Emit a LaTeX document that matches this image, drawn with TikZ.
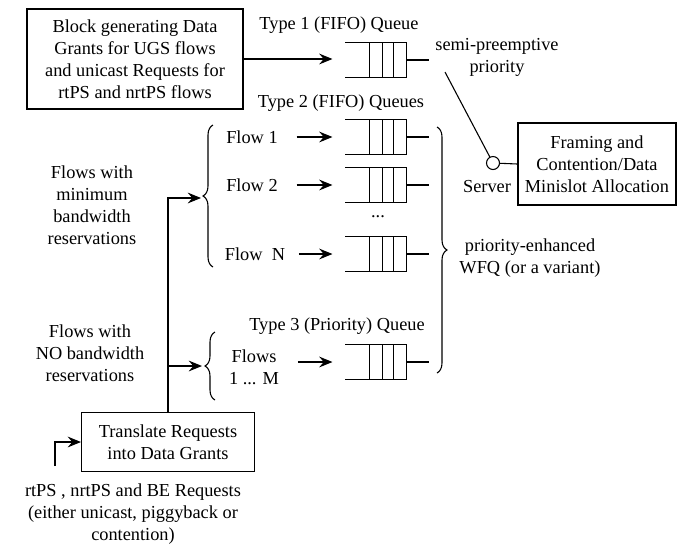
\documentclass[tikz,border=0pt]{standalone}
\usepackage{fontspec}
\setmainfont{Liberation Serif}
\usetikzlibrary{calc,arrows.meta,decorations.pathreplacing,positioning}

\begin{document}
\begin{tikzpicture}[x=0.6pt,y=-0.6pt,line width=0.65pt,
	font=\fontsize{11pt}{13.2pt}\selectfont,
	every node/.style={align=center,inner sep=0pt},
	block/.style={draw,rectangle,inner sep=0pt},
	queue/.style={rectangle,minimum width=36pt,minimum height=20.4pt,inner sep=0pt},
	feed/.style={-{Stealth[length=8pt,width=6.5pt,inset=2.8pt]}},
	arr/.style={feed,shorten >=7.8pt},
	flowarr/.style={arr,shorten <=11pt},
	curly/.style={decorate,decoration={brace,amplitude=6pt}}]
	\useasboundingbox (0,0) rectangle (681,543);

	% grant generator and the first queue
	\node[block,minimum width=129.6pt,minimum height=60pt] (blk) at (135,59) {Block generating Data\\Grants for UGS flows\\and unicast Requests for\\rtPS and nrtPS flows};
	\node (t1) at (339,25) {Type 1 (FIFO) Queue};
	\node[queue] (q1) at (376,60) {};
	\draw[arr] (blk.east) -- (blk.east -| q1.west);

	% queues
	\node (t2) at (341,103) {Type 2 (FIFO) Queues};
	\node[queue] (q2) at (376,137) {};
	\node[queue] (q3) at (376,185) {};
	\node (dots) at (378,217) {...};
	\node[queue] (qn) at (376,254) {};
	\node (t3) at (337,326) {Type 3 (Priority) Queue};
	\node[queue] (qp) at (376,362) {};
	\foreach \q in {q1,q2,q3,qn,qp} {
		\draw (\q.north west) -- (\q.north east) -- (\q.south east) -- (\q.south west);
		\foreach \f in {0.4,0.6,0.78}
			\draw ($(\q.north west)!\f!(\q.north east)$) -- ($(\q.south west)!\f!(\q.south east)$);
		\draw (\q.east) -- ++(22,0);
	}

	% server
	\node (spp) at (497,57) {semi-preemptive\\priority};
	\coordinate (sp) at (445,72);
	\node[draw,circle,minimum size=7.8pt] (srv) at (493,163) {};
	\node (srvl) at (487,187) {Server};
	\node[block,minimum width=94.8pt,minimum height=49.2pt] (frm) at (597,164) {Framing and\\Contention/Data\\Minislot Allocation};
	\draw (sp) -- (srv);
	\draw (srv) -- (frm.west);
	\draw[curly] (437,127) -- (437,373);
	\node (wfq) at (530,258) {priority-enhanced\\WFQ (or a variant)};

	% flows
	\node (f1) at (252,137) {Flow 1};
	\node (f2) at (252,185) {Flow 2};
	\node (fn) at (255,254) {Flow\ \ N};
	\node (fm) at (254,367) {Flows\\1 ... M};
	\draw[flowarr] (f1.east) -- (q2.west);
	\draw[flowarr] (f2.east) -- (q3.west);
	\draw[flowarr,shorten <=8pt] (fn.east) -- (qn.west);
	\draw[flowarr] (fm.east |- qp.west) -- (qp.west);
	\draw[curly] (213,267) -- (213,125);
	\coordinate (b1) at (201,198);
	\draw[curly] (215,400) -- (215,332);
	\coordinate (b2) at (202,366);
	\node (minbw) at (92,205) {Flows with\\minimum\\bandwidth\\reservations};
	\node (nobw) at (90,353) {Flows with\\NO bandwidth\\reservations};

	% requests
	\node[block,minimum width=103.8pt,minimum height=35.4pt] (trn) at (168,442) {Translate Requests\\into Data Grants};
	\draw[feed] (trn.north) |- (b1);
	\draw[feed] (trn.north |- b2) -- (b2);
	\coordinate (req) at (55,466);
	\draw[feed] (req) |- (trn.west);
	\node (reqtxt) at (133,514) {rtPS , nrtPS and BE Requests\\(either unicast, piggyback or\\contention)};
\end{tikzpicture}
\end{document}
